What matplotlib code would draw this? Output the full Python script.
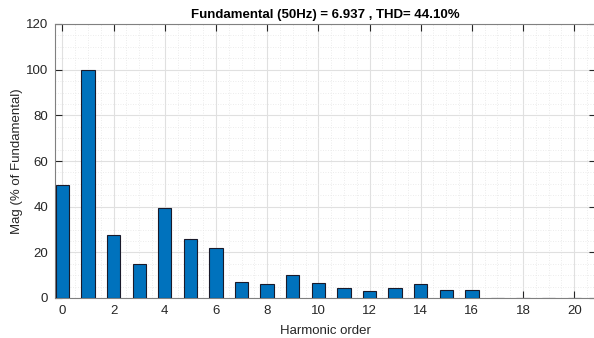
import matplotlib
matplotlib.use("Agg")
import matplotlib.pyplot as plt
from matplotlib.ticker import MultipleLocator

plt.rcParams['font.family'] = ['Liberation Sans', 'DejaVu Sans']

harmonic_order = list(range(0, 21))
magnitude = [49.5, 100.0, 27.8, 14.7, 39.5, 25.8, 21.8, 7.2, 6.0, 10.2, 6.6,
             4.2, 3.1, 4.2, 6.0, 3.6, 3.3, 0.0, 0.0, 0.0, 0.0]
title_text = "Fundamental (50Hz) = 6.937 , THD= 44.10%"
xlabel_text = "Harmonic order"
ylabel_text = "Mag (% of Fundamental)"

W, H = 594, 338
fig = plt.figure(figsize=(W / 100, H / 100), dpi=100)
ax = fig.add_axes([55 / W, 1 - 298 / H, (596 - 55) / W, (298 - 24) / H])

axis_col = (0.15, 0.15, 0.15)
ax.bar(harmonic_order, magnitude, width=0.52, color='#0072BD',
       edgecolor='#1a1a2a', linewidth=0.8, zorder=3)

ax.set_xlim(-0.29, 20.85)
ax.set_ylim(0, 120)
ax.xaxis.set_major_locator(MultipleLocator(2))
ax.xaxis.set_minor_locator(MultipleLocator(0.5))
ax.yaxis.set_major_locator(MultipleLocator(20))
ax.yaxis.set_minor_locator(MultipleLocator(5))

ax.grid(which='major', color='#e0e0e0', linewidth=0.8, linestyle='-', zorder=0)
ax.grid(which='minor', color='#e6e6e6', linewidth=0.6, linestyle=(0, (1, 2)), zorder=0)
ax.set_axisbelow(True)

ax.tick_params(which='major', direction='in', length=5, width=0.8, color=axis_col,
               top=True, right=True, labelsize=9.5, labelcolor=axis_col, pad=5)
ax.tick_params(which='minor', length=0, top=True, right=True)
for s in ax.spines.values():
    s.set_color('#808080')
    s.set_linewidth(0.8)

ax.set_title(title_text, fontsize=9.5, fontweight='bold', color='black', pad=4)
ax.set_xlabel(xlabel_text, fontsize=9.5, color=axis_col, labelpad=6)
ax.set_ylabel(ylabel_text, fontsize=9.5, color=axis_col, labelpad=2)

fig.savefig("out.png", dpi=100)
